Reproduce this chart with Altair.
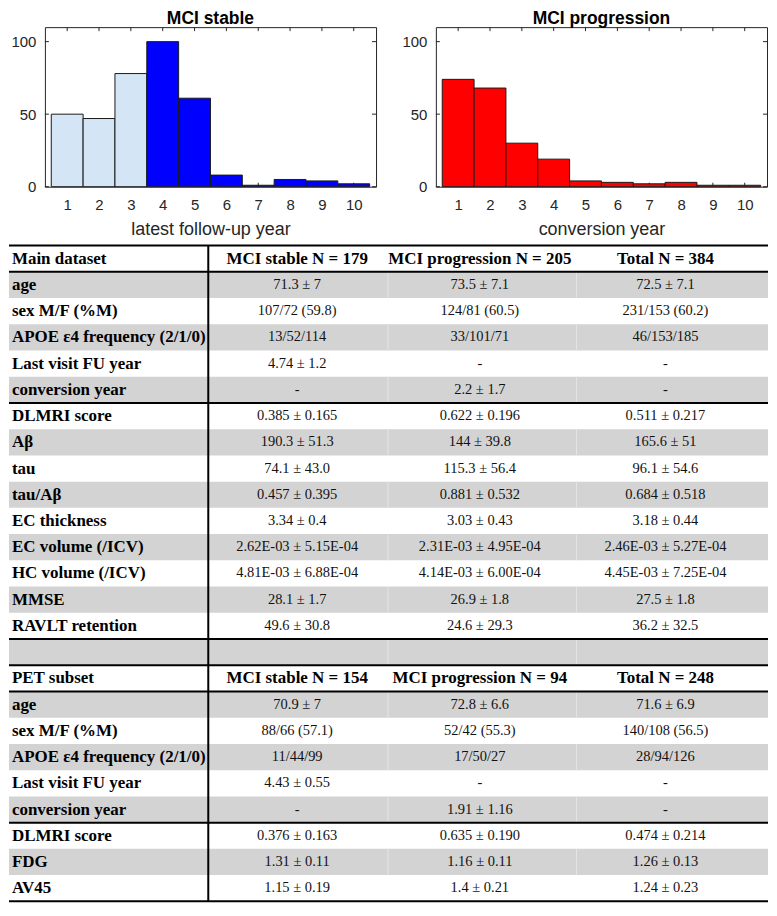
import altair as alt
import pandas as pd

# ---------------- data ----------------
years = list(range(1, 11))
stable_counts = [50, 47, 78, 100, 61, 8, 1, 5, 4, 2]
progression_counts = [74, 68, 30, 19, 4, 3, 2, 3, 1, 1]
hist_titles = ["MCI stable", "MCI progression"]
hist_xlabels = ["latest follow-up year", "conversion year"]
y_ticks = [0, 50, 100]

row_labels = [
    "Main dataset", "age", "sex M/F (%M)", "APOE ε4 frequency (2/1/0)",
    "Last visit FU year", "conversion year", "DLMRI score", "Aβ", "tau",
    "tau/Aβ", "EC thickness", "EC volume (/ICV)", "HC volume (/ICV)", "MMSE",
    "RAVLT retention", "",
    "PET subset", "age", "sex M/F (%M)", "APOE ε4 frequency (2/1/0)",
    "Last visit FU year", "conversion year", "DLMRI score", "FDG", "AV45",
]
stable_col = [
    "MCI stable N = 179", "71.3 ± 7", "107/72 (59.8)", "13/52/114", "4.74 ± 1.2",
    "-", "0.385 ± 0.165", "190.3 ± 51.3", "74.1 ± 43.0", "0.457 ± 0.395",
    "3.34 ± 0.4", "2.62E-03 ± 5.15E-04", "4.81E-03 ± 6.88E-04", "28.1 ± 1.7",
    "49.6 ± 30.8", "",
    "MCI stable N = 154", "70.9 ± 7", "88/66 (57.1)", "11/44/99", "4.43 ± 0.55",
    "-", "0.376 ± 0.163", "1.31 ± 0.11", "1.15 ± 0.19",
]
progression_col = [
    "MCI progression N = 205", "73.5 ± 7.1", "124/81 (60.5)", "33/101/71", "-",
    "2.2 ± 1.7", "0.622 ± 0.196", "144 ± 39.8", "115.3 ± 56.4", "0.881 ± 0.532",
    "3.03 ± 0.43", "2.31E-03 ± 4.95E-04", "4.14E-03 ± 6.00E-04", "26.9 ± 1.8",
    "24.6 ± 29.3", "",
    "MCI progression N = 94", "72.8 ± 6.6", "52/42 (55.3)", "17/50/27", "-",
    "1.91 ± 1.16", "0.635 ± 0.190", "1.16 ± 0.11", "1.4 ± 0.21",
]
total_col = [
    "Total N = 384", "72.5 ± 7.1", "231/153 (60.2)", "46/153/185", "-", "-",
    "0.511 ± 0.217", "165.6 ± 51", "96.1 ± 54.6", "0.684 ± 0.518",
    "3.18 ± 0.44", "2.46E-03 ± 5.27E-04", "4.45E-03 ± 7.25E-04", "27.5 ± 1.8",
    "36.2 ± 32.5", "",
    "Total N = 248", "71.6 ± 6.9", "140/108 (56.5)", "28/94/126", "-", "-",
    "0.474 ± 0.214", "1.26 ± 0.13", "1.24 ± 0.23",
]
row_kind = ["header"] + ["data"] * 14 + ["blank"] + ["header"] + ["data"] * 8

# ---------------- layout / style ----------------
HW, HH = 332, 160
AXIS_COLOR = "#262626"
SANS = "Liberation Sans"
SERIF = "Liberation Serif"
LIGHT_BLUE = "#d4e5f5"
BLUE = "#0000ff"
RED = "#ff0000"

TW = 761
ROW_H = 26.3
NROWS = len(row_labels)
TH = NROWS * ROW_H
REF_W = 777
LABEL_X = 3
COL_CENTERS = [295, 482, 672]
COL_RULE = 204
FAINT_RULES = [388, 581]
HLINES = [0, 1, 6, 15, 16, 17, 22, 25]
SHADE = "#d3d3d3"


def histogram(counts, title, xlabel, light_upto, dark_color):
    df = pd.DataFrame({"year": years, "count": counts})
    xs = alt.Scale(domain=[0.3, 10.7], nice=False, zero=False)
    ys = alt.Scale(domain=[0, 110], nice=False)
    xaxis = alt.Axis(values=years, title=xlabel, labelFontSize=15, titleFontSize=18,
                     labelFont=SANS, titleFont=SANS, labelColor=AXIS_COLOR,
                     titleColor=AXIS_COLOR, titleFontWeight="normal", labelPadding=11,
                     titlePadding=8, tickSize=0, domain=False, grid=False, labelAngle=0)
    yaxis = alt.Axis(values=y_ticks, title=None, labelFontSize=15, labelFont=SANS,
                     labelColor=AXIS_COLOR, labelPadding=9, tickSize=0, domain=False,
                     grid=False)
    tx = pd.DataFrame({"year": years})
    ty = pd.DataFrame({"count": y_ticks})
    tick_len = 4
    ticks_top = alt.Chart(tx).mark_rule(color=AXIS_COLOR).encode(
        x=alt.X("year:Q", scale=xs, axis=xaxis), y=alt.value(0), y2=alt.value(tick_len))
    ticks_bot = alt.Chart(tx).mark_rule(color=AXIS_COLOR).encode(
        x=alt.X("year:Q", scale=xs, axis=xaxis), y=alt.value(HH), y2=alt.value(HH - tick_len))
    ticks_l = alt.Chart(ty).mark_rule(color=AXIS_COLOR).encode(
        y=alt.Y("count:Q", scale=ys, axis=yaxis), x=alt.value(0), x2=alt.value(tick_len))
    ticks_r = alt.Chart(ty).mark_rule(color=AXIS_COLOR).encode(
        y=alt.Y("count:Q", scale=ys, axis=yaxis), x=alt.value(HW - tick_len), x2=alt.value(HW))
    bars = alt.Chart(df).transform_calculate(
        lo="datum.year - 0.5", hi="datum.year + 0.5", zero="0"
    ).mark_rect(stroke="#1a1a1a", strokeWidth=1, opacity=1).encode(
        x=alt.X("lo:Q", scale=xs, axis=xaxis),
        x2="hi:Q",
        y=alt.Y("count:Q", scale=ys, axis=yaxis),
        y2="zero:Q",
        color=alt.condition(f"datum.year <= {light_upto}", alt.value(LIGHT_BLUE),
                            alt.value(dark_color)),
    )
    return alt.layer(ticks_top, ticks_bot, ticks_l, ticks_r, bars).properties(
        width=HW, height=HH,
        title=alt.TitleParams(title, fontSize=17.5, font=SANS, fontWeight="bold",
                              color="black", anchor="middle", offset=-1),
        view=alt.ViewBackground(stroke=AXIS_COLOR, strokeWidth=1),
    )


h1 = histogram(stable_counts, hist_titles[0], hist_xlabels[0], 3, BLUE)
h2 = histogram(progression_counts, hist_titles[1], hist_xlabels[1], 0, RED)
spacer = alt.Chart(pd.DataFrame({"a": [0]})).mark_rule(strokeWidth=0, opacity=0).encode(
    x=alt.value(0), y=alt.value(0), y2=alt.value(0)).properties(width=1, height=HH)
top = alt.hconcat(spacer, alt.hconcat(h1, h2, spacing=24), spacing=0)

# ---------------- table ----------------
tdf = pd.DataFrame({
    "r": list(range(NROWS)),
    "label": row_labels,
    "s": stable_col,
    "p": progression_col,
    "t": total_col,
    "kind": row_kind,
})
xs_t = alt.Scale(domain=[0, REF_W], nice=False, zero=False)
ys_t = alt.Scale(domain=[0, NROWS], reverse=True, nice=False, zero=False)
base = alt.Chart(tdf).transform_calculate(r2="datum.r + 1", rc="datum.r + 0.5")

shade = base.transform_filter("datum.r % 2 == 1").mark_rect(color=SHADE).encode(
    x=alt.value(0), x2=alt.value(TW),
    y=alt.Y("r:Q", scale=ys_t, axis=None), y2="r2:Q")
faint = [
    base.transform_filter("datum.r % 2 == 1").mark_rule(color="#e4e4e4", strokeWidth=1).encode(
        x=alt.X(datum=fx, scale=xs_t, axis=None),
        y=alt.Y("r:Q", scale=ys_t, axis=None), y2="r2:Q")
    for fx in FAINT_RULES
]
hl = alt.Chart(pd.DataFrame({"b": HLINES})).mark_rule(color="black", strokeWidth=2).encode(
    y=alt.Y("b:Q", scale=ys_t, axis=None), x=alt.value(0), x2=alt.value(TW))
vl = alt.Chart(pd.DataFrame({"b": [0]})).mark_rule(color="black", strokeWidth=2).encode(
    x=alt.X(datum=COL_RULE, scale=xs_t, axis=None), y=alt.value(0), y2=alt.value(TH))

labels = base.mark_text(align="left", baseline="middle", font=SERIF, fontSize=17,
                        fontWeight="bold", color="black").encode(
    x=alt.X(datum=LABEL_X, scale=xs_t, axis=None),
    y=alt.Y("rc:Q", scale=ys_t, axis=None), text="label:N")

value_layers = []
for field, cx in zip(["s", "p", "t"], COL_CENTERS):
    value_layers.append(
        base.transform_filter("datum.kind == 'header'").mark_text(
            align="center", baseline="middle", font=SERIF, fontSize=17,
            fontWeight="bold", color="black").encode(
            x=alt.X(datum=cx, scale=xs_t, axis=None),
            y=alt.Y("rc:Q", scale=ys_t, axis=None), text=f"{field}:N"))
    value_layers.append(
        base.transform_filter("datum.kind == 'data'").mark_text(
            align="center", baseline="middle", font=SERIF, fontSize=14.5,
            color="#111111").encode(
            x=alt.X(datum=cx, scale=xs_t, axis=None),
            y=alt.Y("rc:Q", scale=ys_t, axis=None), text=f"{field}:N"))

table = alt.layer(shade, *faint, hl, vl, labels, *value_layers).properties(width=TW, height=TH)

chart = alt.vconcat(top, table, spacing=5).configure_view(stroke=None).properties(
    background="white", padding=0)

chart.save("out.html", embed_options={"renderer": "svg", "actions": False})
